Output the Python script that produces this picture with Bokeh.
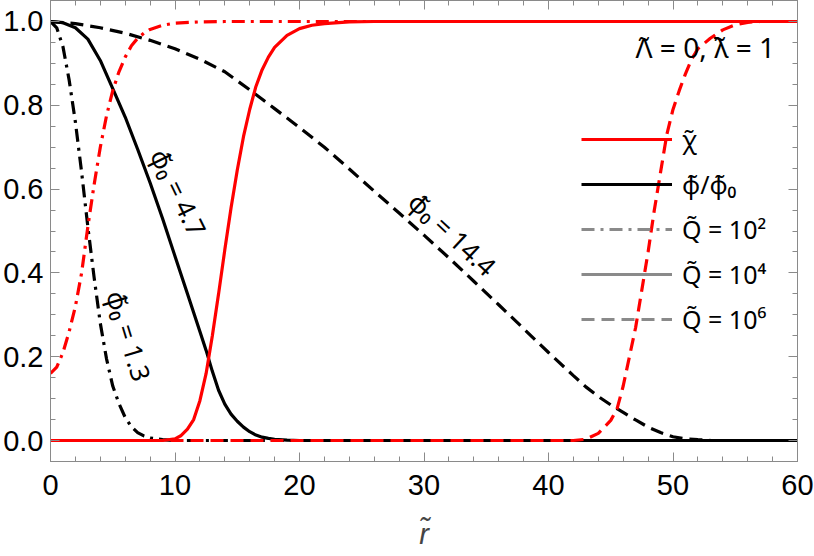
from bokeh.plotting import figure
from bokeh.models import (Range1d, SingleIntervalTicker, LinearAxis, NumeralTickFormatter,
                          Legend, LegendItem, ColumnDataSource, CustomJSTickFormatter)
from bokeh.core.properties import value
from bokeh.embed import file_html
from bokeh.resources import INLINE

# ---------------- data ----------------
# Q = 10^2 : phi/phi0 (black dash-dot, phi0 = 1.3) and chi (red dash-dot)
r_phi_q2 = [0, 0.5, 1, 1.5, 2, 2.5, 3, 3.5, 4, 4.5, 5, 5.5, 6, 6.5, 7, 7.5, 8, 9, 10, 12, 60]
phi_q2 = [1.0, 0.985, 0.94, 0.86, 0.76, 0.64, 0.51, 0.39, 0.28, 0.195, 0.13, 0.088, 0.055,
          0.033, 0.019, 0.011, 0.006, 0.002, 0.0, 0.0, 0.0]
r_chi_q2 = [0, 0.5, 1, 1.5, 2, 2.5, 3, 3.5, 4, 4.5, 5, 5.5, 6, 6.5, 7, 7.5, 8, 9, 10, 12, 14, 60]
chi_q2 = [0.16, 0.175, 0.21, 0.26, 0.32, 0.40, 0.51, 0.61, 0.70, 0.775, 0.835, 0.88, 0.915,
          0.942, 0.96, 0.972, 0.981, 0.991, 0.996, 0.999, 1.0, 1.0]

# Q = 10^4 : phi/phi0 (black solid, phi0 = 4.7) and chi (red solid)
r_phi_q4 = [0, 1, 2, 3, 4, 5, 6, 7, 8, 9, 10, 11, 12, 12.5, 13, 13.5, 14, 14.5, 15, 15.5, 16,
            16.5, 17, 17.5, 18, 19, 20, 60]
phi_q4 = [1.0, 0.997, 0.985, 0.958, 0.907, 0.84, 0.772, 0.695, 0.615, 0.53, 0.44, 0.35, 0.26,
          0.215, 0.165, 0.12, 0.087, 0.063, 0.046, 0.032, 0.021, 0.013, 0.008, 0.005, 0.003,
          0.001, 0.0, 0.0]
r_chi_q4 = [0, 9, 10, 10.5, 11, 11.5, 12, 12.5, 13, 13.5, 14, 14.5, 15, 15.5, 16, 16.5, 17,
            17.5, 18, 19, 20, 21, 22, 24, 26, 60]
chi_q4 = [0.0, 0.0, 0.004, 0.012, 0.027, 0.05, 0.095, 0.16, 0.25, 0.35, 0.455, 0.555, 0.645,
          0.725, 0.79, 0.845, 0.885, 0.915, 0.938, 0.967, 0.983, 0.991, 0.995, 0.999, 1.0, 1.0]

# Q = 10^6 : phi/phi0 (black dashed, phi0 = 14.4) and chi (red dashed)
r_phi_q6 = [0, 2, 4, 6, 8, 10, 12, 14, 16, 18, 20, 22, 24, 26, 28, 30, 32, 34, 36, 38, 40, 42,
            43, 44, 45, 46, 47, 48, 49, 50, 51, 52, 53, 54, 60]
phi_q6 = [1.0, 0.995, 0.985, 0.972, 0.955, 0.935, 0.91, 0.88, 0.837, 0.792, 0.747, 0.70, 0.648,
          0.595, 0.543, 0.49, 0.436, 0.38, 0.324, 0.267, 0.21, 0.155, 0.128, 0.105, 0.085,
          0.067, 0.049, 0.032, 0.019, 0.009, 0.004, 0.002, 0.0005, 0.0, 0.0]
r_chi_q6 = [0, 42, 43, 44, 45, 45.5, 46, 46.5, 47, 47.5, 48, 48.5, 49, 49.5, 50, 50.5, 51, 51.5,
            52, 53, 54, 55, 56, 57, 60]
chi_q6 = [0.0, 0.0, 0.003, 0.017, 0.048, 0.075, 0.13, 0.2, 0.27, 0.36, 0.45, 0.55, 0.64, 0.73,
          0.79, 0.835, 0.875, 0.91, 0.935, 0.96, 0.98, 0.992, 0.998, 1.0, 1.0]

# in-plot labels
curve_labels = ["\u03d5\u0303\u2080 = 4.7", "\u03d5\u0303\u2080 = 1.3", "\u03d5\u0303\u2080 = 14.4"]
curve_label_r = [10.3, 6.3, 32.3]
curve_label_y = [0.592, 0.25, 0.493]
curve_label_angle_deg = [-64, -73, -43]

title_text = "\u039b\u0303 = 0, \u03bb\u0303 = 1"
legend_labels = ["\u03c7\u0303", "\u03d5\u0303/\u03d5\u0303\u2080",
                 "Q\u0303 = 10\u00b2", "Q\u0303 = 10\u2074", "Q\u0303 = 10\u2076"]

x_major = 10
y_major = 0.2

# ---------------- figure ----------------
FONT = "Liberation Sans"
GFONT = "Noto Sans"
GRAY = "#8a8a8a"
RED = "#ff0000"
LW = 3.2
DASH = "13 7"
DASHDOT = "13 6 3 6"

p = figure(width=814, height=556, output_backend="svg", toolbar_location=None,
           x_range=Range1d(0, 60), y_range=Range1d(-0.0501, 1.0501),
           min_border_left=50, min_border_right=17, min_border_top=0, min_border_bottom=95,
           x_axis_label="r\u0303")
p.grid.visible = False
p.outline_line_color = GRAY
p.background_fill_color = "white"
p.border_fill_color = "white"

p.xaxis.ticker = SingleIntervalTicker(interval=x_major, num_minor_ticks=5)
p.yaxis.ticker = SingleIntervalTicker(interval=y_major, num_minor_ticks=4)
p.yaxis.formatter = NumeralTickFormatter(format="0.0")
for ax in (p.xaxis[0], p.yaxis[0]):
    ax.axis_line_color = GRAY
    ax.major_tick_line_color = GRAY
    ax.minor_tick_line_color = GRAY
    ax.major_tick_in = 9
    ax.major_tick_out = 0
    ax.minor_tick_in = 5
    ax.minor_tick_out = 0
    ax.major_label_text_font = FONT
    ax.major_label_text_font_size = "29px"
    ax.major_label_text_color = "black"
p.yaxis.major_label_standoff = 7
p.xaxis.major_label_standoff = 13
p.xaxis.axis_label_text_font = FONT
p.xaxis.axis_label_text_font_size = "29px"
p.xaxis.axis_label_text_font_style = "italic"
p.xaxis.axis_label_standoff = 20

# frame ticks on top / right
for loc, interval, nminor in (("above", x_major, 5), ("right", y_major, 4)):
    ax = LinearAxis(ticker=SingleIntervalTicker(interval=interval, num_minor_ticks=nminor),
                    formatter=CustomJSTickFormatter(code="return ''"))
    ax.axis_line_color = GRAY
    ax.major_tick_line_color = GRAY
    ax.minor_tick_line_color = GRAY
    ax.major_tick_in = 9
    ax.major_tick_out = 0
    ax.minor_tick_in = 5
    ax.minor_tick_out = 0
    ax.major_label_standoff = 0
    ax.major_label_text_font_size = "0px"
    p.add_layout(ax, loc)

# curves: black first, red on top
p.line(r_phi_q6, phi_q6, line_color="black", line_width=LW, line_dash=DASH)
p.line(r_phi_q4, phi_q4, line_color="black", line_width=LW)
p.line(r_phi_q2, phi_q2, line_color="black", line_width=LW, line_dash=DASHDOT)
p.line(r_chi_q2, chi_q2, line_color=RED, line_width=LW, line_dash=DASHDOT)
p.line(r_chi_q6, chi_q6, line_color=RED, line_width=LW, line_dash=DASH)
p.line(r_chi_q4, chi_q4, line_color=RED, line_width=LW)

# labels along curves
lab_src = ColumnDataSource(dict(x=curve_label_r, y=curve_label_y, text=curve_labels,
                                angle=[a * 3.141592653589793 / 180 for a in curve_label_angle_deg]))
p.text(x="x", y="y", text="text", angle="angle", source=lab_src,
       text_font=value(GFONT), text_font_size="26px", text_color="black",
       text_align="center", text_baseline="middle")

p.text(x=[58.2], y=[0.938], text=[title_text], text_font=value(GFONT), text_font_size="28px",
       text_color="black", text_align="right", text_baseline="middle")

# legend with proxy renderers (NaN data: nothing drawn in the frame)
nan = float("nan")
proxy_styles = [(RED, None), ("black", None), (GRAY, DASHDOT), (GRAY, None), (GRAY, DASH)]
items = []
for lab, (col, dash) in zip(legend_labels, proxy_styles):
    kw = dict(line_color=col, line_width=LW)
    if dash:
        kw["line_dash"] = dash
    rr = p.line(x=[nan, nan], y=[nan, nan], **kw)
    items.append(LegendItem(label=lab, renderers=[rr]))

legend = Legend(items=items, location=(531, 125), orientation="vertical",
                border_line_alpha=0, background_fill_alpha=0, padding=0, margin=0,
                spacing=11, glyph_width=91, glyph_height=30, label_height=30,
                label_standoff=10, label_text_font=GFONT, label_text_font_size="25px",
                label_text_color="black", label_text_baseline="middle")
p.add_layout(legend)

open("out.html", "w").write(file_html(p, INLINE))
